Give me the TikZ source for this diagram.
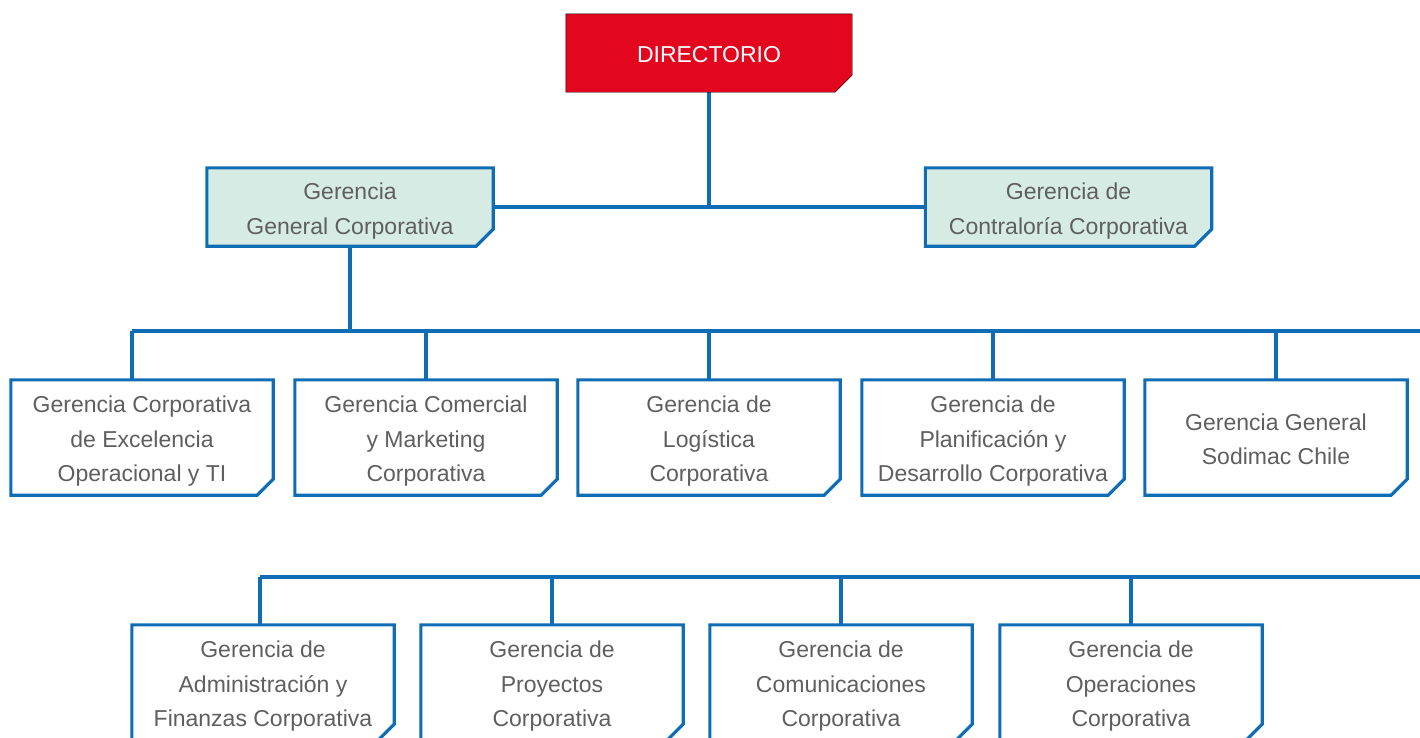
\documentclass[tikz,border=0pt]{standalone}
\usepackage{fontspec}
\setmainfont{Liberation Sans}
\usetikzlibrary{backgrounds}
\definecolor{lineblue}{HTML}{0F6DB5}
\definecolor{dirred}{HTML}{E2061E}
\definecolor{palegreen}{HTML}{D6EBE3}
\definecolor{txtgray}{HTML}{5F5F5F}
\newcommand\chbox[3]{\draw[#2] (#1.north west) -- (#1.north east) -- ([yshift=#3]#1.south east) -- ([xshift=-#3]#1.south east) -- (#1.south west) -- cycle;}
\newcommand\tx[1]{\raisebox{-3pt}[\height][\depth]{\begin{tabular}{@{}c@{}}#1\end{tabular}}}
\begin{document}
\begin{tikzpicture}[x=1pt,y=-1pt,
  base/.style={inner sep=0pt, font=\fontsize{23}{34.5}\selectfont, text=txtgray},
  unit/.style={base, minimum width=262pt, minimum height=115pt},
  mid/.style={base, minimum width=286pt, minimum height=78pt},
  outl/.style={draw=lineblue, line width=3.1pt, fill=white},
  link/.style={draw=lineblue, line width=3.1pt}]
\useasboundingbox (0,0) rectangle (1420,737);
% top
\node[base, text=white, minimum width=286pt, minimum height=78pt] (dir) at (709,53) {\tx{DIRECTORIO}};
\node[mid] (ggc) at (350,207) {\tx{Gerencia\\General Corporativa}};
\node[mid] (gcc) at (1068.5,207) {\tx{Gerencia de\\Contralor\'ia Corporativa}};
% first row
\node[unit] (t1) at (142,437.5) {\tx{Gerencia Corporativa\\de Excelencia\\Operacional y TI}};
\node[unit] (t2) at (426,437.5) {\tx{Gerencia Comercial\\y Marketing\\Corporativa}};
\node[unit] (t3) at (709,437.5) {\tx{Gerencia de\\Log\'istica\\Corporativa}};
\node[unit] (t4) at (993,437.5) {\tx{Gerencia de\\Planificaci\'on y\\Desarrollo Corporativa}};
\node[unit] (t5) at (1276,437.5) {\tx{Gerencia General\\Sodimac Chile}};
% second row
\node[unit] (b1) at (263,682.5) {\tx{Gerencia de\\Administraci\'on y\\Finanzas Corporativa}};
\node[unit] (b2) at (552,682.5) {\tx{Gerencia de\\Proyectos\\Corporativa}};
\node[unit] (b3) at (841,682.5) {\tx{Gerencia de\\Comunicaciones\\Corporativa}};
\node[unit] (b4) at (1131,682.5) {\tx{Gerencia de\\Operaciones\\Corporativa}};
\coordinate (busA) at (1420,331);
\coordinate (busB) at (1420,577);
\coordinate (t1in) at ([xshift=-10pt]t1.north);
\coordinate (b1in) at ([xshift=-3pt]b1.north);
\begin{scope}[on background layer]
  % connectors
  \draw[link] (dir) -- (dir |- ggc.east);
  \draw[link] (ggc.east) -- (gcc.west);
  \draw[link] (ggc.south) -- (ggc.south |- busA);
  \draw[link] (t1in |- busA) -- (busA);
  \draw[link] (t1in) -- (t1in |- busA);
  \foreach \n in {t2,t3,t4,t5} \draw[link] (\n.north) -- (\n.north |- busA);
  \draw[link] (b1in |- busB) -- (busB);
  \draw[link] (b1in) -- (b1in |- busB);
  \foreach \n in {b2,b3,b4} \draw[link] (\n.north) -- (\n.north |- busB);
  % boxes
  \chbox{dir}{fill=dirred}{17pt}
  \chbox{ggc}{outl, fill=palegreen}{17pt}
  \chbox{gcc}{outl, fill=palegreen}{17pt}
  \foreach \n in {t1,t2,t3,t4,t5,b1,b2,b3,b4} {\chbox{\n}{outl}{16pt}}
\end{scope}
\end{tikzpicture}
\end{document}
